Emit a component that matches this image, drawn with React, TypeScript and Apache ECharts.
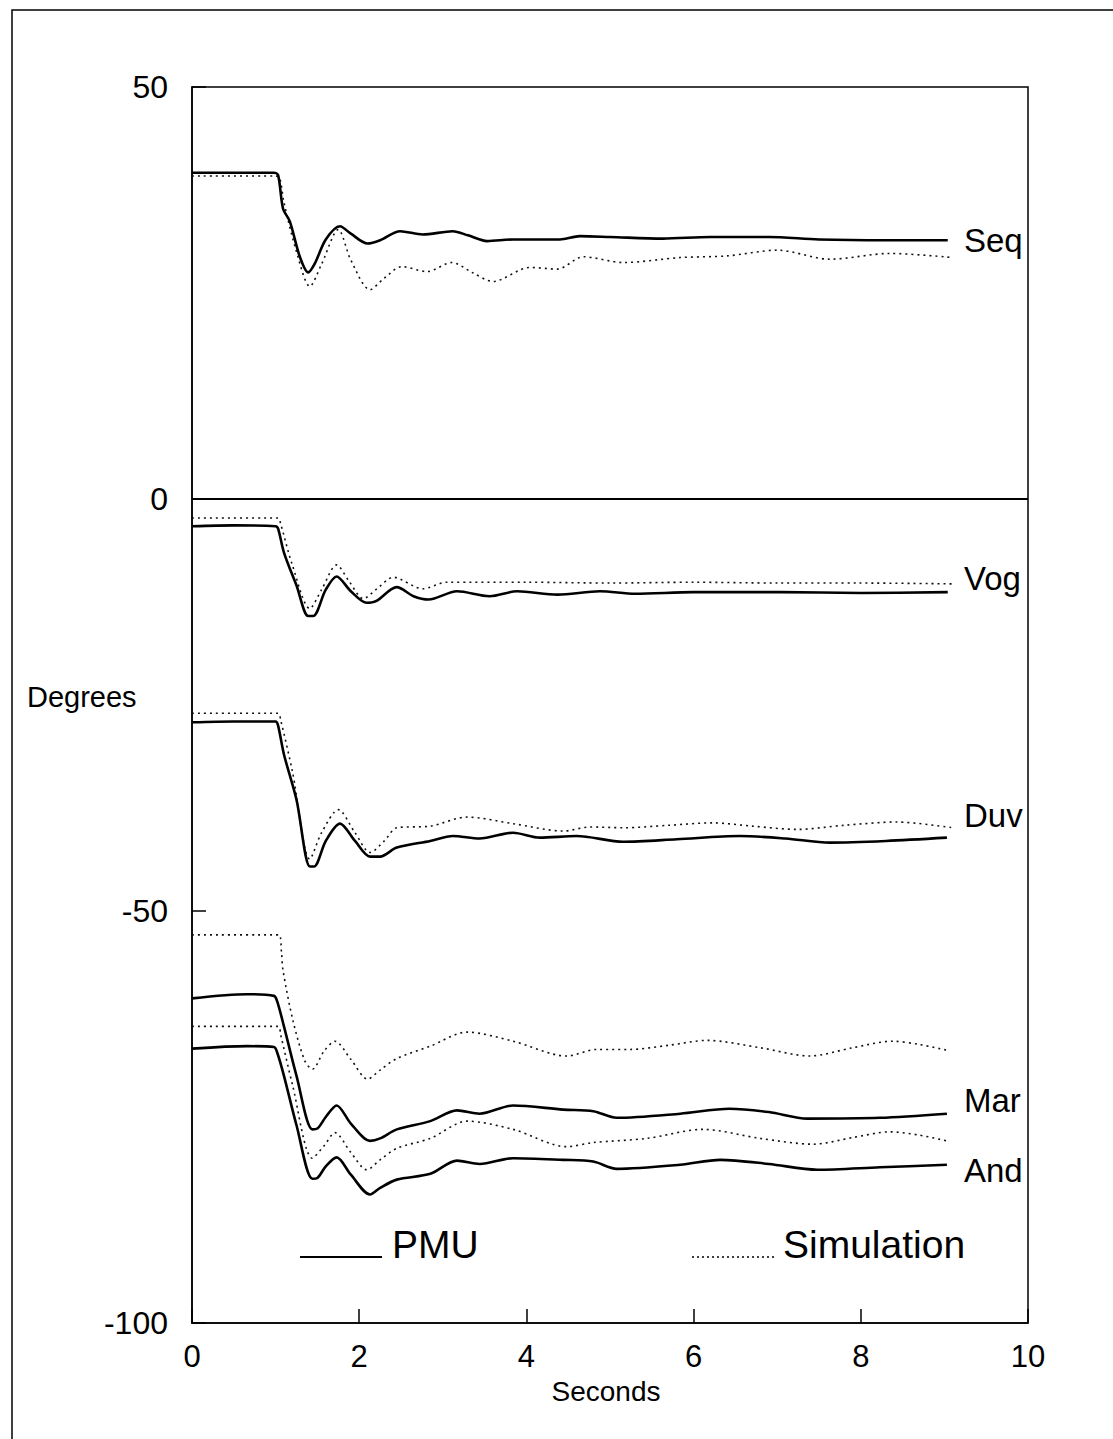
import React, { useEffect, useRef } from "react";
import * as echarts from "echarts";

const FONT = "'Liberation Sans', Arial, Helvetica, sans-serif";

const xTicks = [0, 2, 4, 6, 8, 10];
const yTicks = [50, 0, -50, -100];

const seqPmu = [[0,39.6],[0.5,39.6],[0.98,39.6],[1.03,39.3],[1.09,35.2],[1.17,33.7],[1.29,29.4],[1.39,27.5],[1.47,28.6],[1.6,31.5],[1.77,33.1],[1.9,32.2],[2.1,31.0],[2.25,31.4],[2.49,32.5],[2.76,32.1],[3.12,32.5],[3.3,32.0],[3.53,31.3],[3.84,31.5],[4.4,31.5],[4.64,31.9],[5.0,31.8],[5.63,31.6],[6.2,31.8],[6.9,31.8],[7.5,31.5],[8.3,31.4],[9.04,31.4]];
const seqSim = [[0,39.2],[1.0,39.2],[1.05,38.9],[1.1,36],[1.25,30],[1.41,25.8],[1.55,28.5],[1.75,32.7],[1.9,29],[2.13,25.4],[2.3,26.8],[2.51,28.2],[2.81,27.6],[3.11,28.7],[3.35,27.5],[3.6,26.4],[4.04,28.1],[4.37,27.9],[4.68,29.4],[5.16,28.7],[5.84,29.3],[6.4,29.5],[7.0,30.2],[7.63,29.1],[8.35,29.8],[9.1,29.3]];
const vogPmu = [[0,-3.3],[0.5,-3.2],[1.0,-3.3],[1.03,-3.6],[1.1,-6.5],[1.25,-10.5],[1.39,-14.2],[1.45,-14.2],[1.6,-11],[1.73,-9.4],[1.9,-11.2],[2.09,-12.6],[2.2,-12.4],[2.45,-10.7],[2.65,-11.8],[2.83,-12.2],[3.17,-11.2],[3.56,-11.8],[3.89,-11.2],[4.37,-11.6],[4.88,-11.2],[5.3,-11.5],[6.0,-11.3],[7.03,-11.3],[8.0,-11.4],[9.04,-11.3]];
const vogSim = [[0,-2.3],[1.03,-2.3],[1.06,-3],[1.2,-8],[1.41,-13.3],[1.55,-11],[1.73,-8.0],[1.88,-10],[2.05,-12.1],[2.2,-11],[2.41,-9.5],[2.76,-10.9],[3.05,-10.1],[4,-10.1],[5,-10.2],[6,-10.1],[7,-10.2],[8,-10.2],[9.1,-10.3]];
const duvPmu = [[0,-27.1],[0.5,-27.0],[1.0,-27.0],[1.03,-27.5],[1.1,-31],[1.25,-36.5],[1.41,-44.6],[1.46,-44.6],[1.6,-41.5],[1.77,-39.4],[1.95,-41.5],[2.13,-43.4],[2.25,-43.4],[2.45,-42.3],[2.85,-41.5],[3.12,-40.9],[3.44,-41.2],[3.84,-40.5],[4.16,-41.1],[4.6,-40.9],[5.16,-41.6],[5.8,-41.3],[6.55,-40.9],[7.1,-41.2],[7.63,-41.7],[8.3,-41.5],[9.03,-41.1]];
const duvSim = [[0,-26.0],[1.03,-26.0],[1.06,-26.8],[1.2,-33],[1.41,-43.7],[1.55,-40.5],[1.75,-37.7],[1.95,-40.5],[2.13,-42.9],[2.3,-41.5],[2.45,-39.9],[2.85,-39.7],[3.29,-38.6],[3.84,-39.4],[4.44,-40.3],[4.76,-39.8],[5.16,-39.9],[5.7,-39.6],[6.23,-39.3],[6.7,-39.7],[7.24,-40.1],[7.8,-39.6],[8.43,-39.2],[9.1,-39.9]];
const marSim = [[0,-52.9],[1.04,-52.9],[1.07,-55],[1.09,-57.3],[1.21,-63.4],[1.35,-68.2],[1.44,-69.2],[1.58,-67],[1.71,-65.8],[1.9,-68],[2.1,-70.4],[2.25,-69.3],[2.45,-67.9],[2.85,-66.4],[3.29,-64.7],[3.84,-65.8],[4.48,-67.6],[4.84,-66.8],[5.24,-66.8],[5.7,-66.3],[6.16,-65.7],[6.8,-66.6],[7.39,-67.6],[7.9,-66.6],[8.38,-65.8],[8.7,-66.2],[9.03,-66.9]];
const marPmu = [[0,-60.6],[0.66,-60.1],[0.98,-60.3],[1.02,-61],[1.1,-64],[1.25,-70],[1.44,-76.5],[1.5,-76.4],[1.6,-75],[1.73,-73.6],[1.9,-75.8],[2.13,-77.9],[2.25,-77.6],[2.45,-76.5],[2.85,-75.5],[3.17,-74.2],[3.44,-74.6],[3.84,-73.6],[4.44,-74.1],[4.8,-74.3],[5.08,-75.1],[5.84,-74.6],[6.43,-74.0],[6.9,-74.4],[7.36,-75.2],[8.23,-75.1],[9.03,-74.6]];
const andSim = [[0,-64.0],[1.03,-64.0],[1.06,-65],[1.2,-71],[1.44,-80.0],[1.58,-78.5],[1.71,-76.9],[1.9,-79.3],[2.09,-81.4],[2.25,-80.2],[2.45,-78.8],[2.85,-77.6],[3.29,-75.5],[3.84,-76.5],[4.48,-78.6],[4.8,-78.1],[5.44,-77.6],[6.11,-76.5],[6.8,-77.6],[7.43,-78.3],[7.9,-77.5],[8.35,-76.8],[8.7,-77.2],[9.03,-77.9]];
const andPmu = [[0,-66.7],[0.66,-66.4],[0.98,-66.5],[1.02,-67.2],[1.1,-70],[1.25,-76],[1.44,-82.5],[1.5,-82.4],[1.6,-81],[1.73,-79.9],[1.9,-82],[2.13,-84.4],[2.25,-83.6],[2.45,-82.6],[2.85,-81.9],[3.17,-80.3],[3.44,-80.7],[3.84,-80.0],[4.44,-80.2],[4.8,-80.4],[5.08,-81.3],[5.84,-80.8],[6.32,-80.2],[6.9,-80.7],[7.48,-81.4],[8.23,-81.1],[9.03,-80.8]];

const stationLabels = [
  { name: "Seq", y: 240 },
  { name: "Vog", y: 578 },
  { name: "Duv", y: 815 },
  { name: "Mar", y: 1100 },
  { name: "And", y: 1170 },
];

const pmuSeries = [seqPmu, vogPmu, duvPmu, marPmu, andPmu];
const simSeries = [seqSim, vogSim, duvSim, marSim, andSim];

export default function App() {
  const ref = useRef<HTMLDivElement>(null);
  useEffect(() => {
    document.body.style.margin = "0";
    const chart = echarts.init(ref.current!, null, { renderer: "svg" });
    const solid = (d: number[][], i: number) => ({
      name: "PMU " + i,
      type: "line",
      data: d,
      smooth: 0.3,
      showSymbol: false,
      lineStyle: { color: "#000", width: 2.6 },
      z: 3,
    });
    const dotted = (d: number[][], i: number) => ({
      name: "Simulation " + i,
      type: "line",
      data: d,
      smooth: 0.3,
      showSymbol: false,
      lineStyle: { color: "#111", width: 1.6, type: [2, 4] },
      z: 2,
    });
    const series: any[] = [
      ...pmuSeries.map(solid),
      ...simSeries.map(dotted),
      {
        name: "zero",
        type: "line",
        data: [],
        markLine: {
          silent: true,
          symbol: "none",
          label: { show: false },
          lineStyle: { color: "#000", width: 2, type: "solid" },
          data: [{ yAxis: 0 }],
        },
      },
    ];
    chart.setOption({
      animation: false,
      backgroundColor: "#fff",
      grid: {
        left: 192,
        right: 85,
        top: 87,
        bottom: 116,
        show: true,
        borderColor: "#000",
        borderWidth: 1.5,
        containLabel: false,
      },
      xAxis: {
        type: "value",
        min: 0,
        max: 10,
        interval: 2,
        axisLine: { onZero: false, lineStyle: { color: "#000", width: 1.5 } },
        axisTick: { inside: true, length: 14, lineStyle: { color: "#000", width: 1.5 } },
        axisLabel: {
          color: "#000",
          fontSize: 31,
          fontFamily: FONT,
          margin: 18,
          formatter: (v: number) => (xTicks.includes(v) ? String(v) : ""),
        },
        splitLine: { show: false },
      },
      yAxis: {
        type: "value",
        min: -100,
        max: 50,
        interval: 50,
        axisLine: { onZero: false, lineStyle: { color: "#000", width: 1.5 } },
        axisTick: { inside: true, length: 14, lineStyle: { color: "#000", width: 1.5 } },
        axisLabel: {
          color: "#000",
          fontSize: 32,
          fontFamily: FONT,
          margin: 24,
          formatter: (v: number) => (yTicks.includes(v) ? String(v) : ""),
        },
        splitLine: { show: false },
      },
      graphic: [
        {
          type: "rect",
          shape: { x: 12, y: 10, width: 1300, height: 1600 },
          style: { fill: "none", stroke: "#000", lineWidth: 1.5 },
          silent: true,
        },
        {
          type: "text",
          x: 27,
          y: 697,
          style: { text: "Degrees", font: "29px " + FONT, fill: "#000", verticalAlign: "middle" },
        },
        {
          type: "text",
          x: 606,
          y: 1391,
          style: { text: "Seconds", font: "28px " + FONT, fill: "#000", align: "center", verticalAlign: "middle" },
        },
        ...stationLabels.map((s) => ({
          type: "text",
          x: 964,
          y: s.y,
          style: { text: s.name, font: "33px " + FONT, fill: "#000", verticalAlign: "middle" },
        })),
        {
          type: "line",
          shape: { x1: 300, y1: 1257, x2: 382, y2: 1257 },
          style: { stroke: "#000", lineWidth: 2 },
        },
        {
          type: "text",
          x: 392,
          y: 1244,
          style: { text: "PMU", font: "39px " + FONT, fill: "#000", verticalAlign: "middle" },
        },
        {
          type: "line",
          shape: { x1: 692, y1: 1257, x2: 774, y2: 1257 },
          style: { stroke: "#000", lineWidth: 1.5, lineDash: [2, 3] },
        },
        {
          type: "text",
          x: 783,
          y: 1244,
          style: { text: "Simulation", font: "39px " + FONT, fill: "#000", verticalAlign: "middle" },
        },
      ],
      series,
    });
    return () => chart.dispose();
  }, []);
  return <div ref={ref} style={{ width: 1113, height: 1439 }} />;
}
